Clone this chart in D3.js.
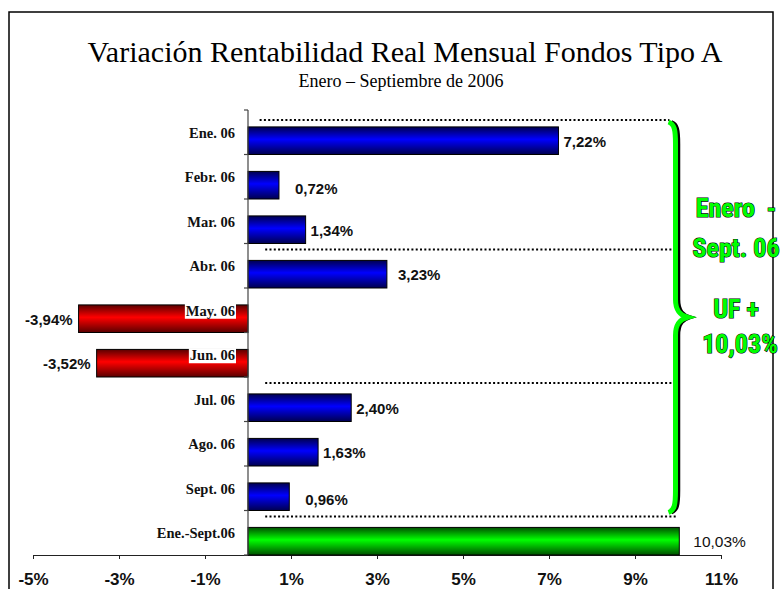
<!DOCTYPE html>
<html>
<head>
<meta charset="utf-8">
<title>Variación Rentabilidad Real Mensual Fondos Tipo A</title>
<script src="https://d3js.org/d3.v7.min.js"></script>
<style>
  body { margin: 0; background: #fff; }
  svg { display: block; }
</style>
</head>
<body>
<div id="home"></div>
<script>
// monthly real return, Fondos Tipo A (2006)
const months = ["Ene. 06", "Febr. 06", "Mar. 06", "Abr. 06", "May. 06", "Jun. 06",
                "Jul. 06", "Ago. 06", "Sept. 06", "Ene.-Sept.06"];
const returns = [7.22, 0.72, 1.34, 3.23, -3.94, -3.52, 2.40, 1.63, 0.96, 10.03];
const xTicks = [-5, -3, -1, 1, 3, 5, 7, 9, 11];
// months that open a quarter get a dotted separator
const quarterStarts = ["Ene. 06", "Abr. 06", "Jul. 06", "Ene.-Sept.06"];
const sideNote = ["Enero  -", "Sept. 06", "UF +", "10,03%"];

const w = 780, h = 589;
const serif = "'Liberation Serif', 'Times New Roman', serif";
const sans = "'Liberation Sans', Arial, sans-serif";
const narrow = "'Roboto Condensed', 'DejaVu Sans Condensed', sans-serif";

const svg = d3.select("#home").append("svg")
  .attr("width", w).attr("height", h);

const defs = svg.append("defs");
function grad(id, dark, light) {
  const g = defs.append("linearGradient").attr("id", id)
    .attr("x1", 0).attr("y1", 0).attr("x2", 0).attr("y2", 1);
  g.append("stop").attr("offset", "0%").attr("stop-color", dark);
  g.append("stop").attr("offset", "45%").attr("stop-color", light);
  g.append("stop").attr("offset", "100%").attr("stop-color", dark);
}
grad("gBlue", "#000050", "#0000ff");
grad("gRed", "#5a0000", "#ff0000");
grad("gGreen", "#005000", "#00ff00");

// frame
svg.append("rect").attr("x", 9).attr("y", 12).attr("width", 764).attr("height", 620)
  .attr("fill", "#fff").attr("stroke", "#000").attr("stroke-width", 1.5);

// titles
svg.append("text").attr("x", 405).attr("y", 62).attr("text-anchor", "middle")
  .style("font-family", serif).style("font-size", "30px")
  .text("Variación Rentabilidad Real Mensual Fondos Tipo A");
svg.append("text").attr("x", 401).attr("y", 87).attr("text-anchor", "middle")
  .style("font-family", serif).style("font-size", "18px")
  .text("Enero – Septiembre de 2006");

const x = d3.scaleLinear().domain([-5, 11]).range([33, 721]);
const y = d3.scaleBand().domain(months).range([110, 555]).padding(0);
const bw = y.bandwidth();

const fmt = d3.formatLocale({ decimal: ",", thousands: ".", grouping: [3], currency: ["", ""], minus: "-" })
  .format(".2f");

// x axis
const xAxis = d3.axisBottom(x).tickValues(xTicks).tickSize(4).tickSizeOuter(0)
  .tickFormat(d => d + "%");
const gx = svg.append("g").attr("transform", "translate(0,555)").call(xAxis);
gx.select(".domain").attr("stroke", "#222");
gx.selectAll(".tick line").attr("stroke", "#222");
gx.selectAll(".tick text").attr("y", 18).attr("fill", "#111")
  .style("font-family", sans).style("font-size", "17px").style("font-weight", "bold");

// dotted separators
svg.selectAll("line.sep").data(quarterStarts).enter().append("line")
  .attr("class", "sep")
  .attr("x1", (d, i) => i === 0 ? x(0.27) : x(0.4))
  .attr("x2", (d, i) => i === 0 ? x(9.8) : x(9.95))
  .attr("y1", (d, i) => y(d) + (i === 0 ? 10 : 6))
  .attr("y2", (d, i) => y(d) + (i === 0 ? 10 : 6))
  .attr("stroke", "#000").attr("stroke-width", 2).attr("stroke-dasharray", "2,2.3");

// bars
const rows = months.map((m, i) => ({ m, v: returns[i], total: i === months.length - 1 }));
const barTop = d => y(d.m) + bw * 0.38;
const barH = bw * 0.62;

svg.selectAll("rect.bar").data(rows).enter().append("rect")
  .attr("class", "bar")
  .attr("x", d => x(Math.min(0, d.v)))
  .attr("y", barTop)
  .attr("width", d => Math.abs(x(d.v) - x(0)))
  .attr("height", barH)
  .attr("fill", d => d.total ? "url(#gGreen)" : d.v < 0 ? "url(#gRed)" : "url(#gBlue)")
  .attr("stroke", "#000").attr("stroke-width", 1);

// y axis line + ticks at band edges
svg.append("line").attr("x1", x(0)).attr("x2", x(0)).attr("y1", 110).attr("y2", 555)
  .attr("stroke", "#444").attr("stroke-width", 1.2);
const edges = months.map(m => y(m)).concat([555]);
svg.selectAll("line.ytick").data(edges).enter().append("line")
  .attr("class", "ytick")
  .attr("x1", x(0) - 4).attr("x2", x(0)).attr("y1", d => d).attr("y2", d => d)
  .attr("stroke", "#444").attr("stroke-width", 1.2);

// category labels (white box where they sit over a red bar)
const catG = svg.append("g");
rows.forEach(d => {
  const t = catG.append("text")
    .attr("x", 235).attr("y", y(d.m) + bw / 2 + 5.5)
    .attr("text-anchor", "end").attr("fill", "#111")
    .style("font-family", serif).style("font-size", "14.5px").style("font-weight", "bold")
    .text(d.m);
  if (d.v < 0) {
    const b = t.node().getBBox();
    catG.insert("rect", "text").attr("x", b.x - 1).attr("y", b.y + 1)
      .attr("width", b.width + 2).attr("height", b.height - 1).attr("fill", "#fff");
  }
});

// value labels
const labelShift = { "Febr. 06": [16, 3], "Abr. 06": [11, 0], "Sept. 06": [16, 2], "Ene.-Sept.06": [14, 0] };
svg.selectAll("text.val").data(rows).enter().append("text")
  .attr("class", "val")
  .attr("x", d => {
    const s = labelShift[d.m] || [5, 0];
    return d.v < 0 ? x(d.v) - 6 : x(d.v) + s[0];
  })
  .attr("y", d => barTop(d) + barH / 2 + 6 + (labelShift[d.m] || [5, 0])[1])
  .attr("text-anchor", d => d.v < 0 ? "end" : "start")
  .attr("fill", "#111")
  .style("font-family", sans).style("font-size", d => d.total ? "15.5px" : "15px")
  .style("font-weight", d => d.total ? "normal" : "bold")
  .text(d => fmt(d.v) + "%");

// curly brace around Jan-Sept
const bTop = y(months[0]) + 12, bBot = y(months[months.length - 1]) + 2;
const bMid = (bTop + bBot) / 2, bx = x(10) - 1;
const brace = `M ${bx - 7} ${bTop} C ${bx - 1} ${bTop + 2}, ${bx} ${bTop + 8}, ${bx} ${bTop + 22}
  L ${bx} ${bMid - 18} C ${bx} ${bMid - 6}, ${bx + 5} ${bMid - 2}, ${bx + 12} ${bMid}
  C ${bx + 5} ${bMid + 2}, ${bx} ${bMid + 6}, ${bx} ${bMid + 18}
  L ${bx} ${bBot - 22} C ${bx} ${bBot - 8}, ${bx - 1} ${bBot - 2}, ${bx - 7} ${bBot}`;
svg.append("path").attr("d", brace).attr("fill", "none")
  .attr("stroke", "#000").attr("stroke-width", 3.5).attr("transform", "translate(1.5,0)");
svg.append("path").attr("d", brace).attr("fill", "none")
  .attr("stroke", "#00ff00").attr("stroke-width", 5).attr("transform", "translate(-1.5,0)");

// side note
const noteY = [217, 257, 318, 353];
svg.selectAll("text.note").data(sideNote).enter().append("text")
  .attr("class", "note")
  .attr("x", (d, i) => i === 3 ? 740 : 736).attr("y", (d, i) => noteY[i])
  .attr("text-anchor", "middle")
  .attr("fill", "#00ff00").attr("stroke", "#000").attr("stroke-width", 1.2)
  .style("paint-order", "stroke").style("white-space", "pre")
  .style("font-family", narrow).style("font-size", "26px").style("font-weight", "bold")
  .text(d => d);
</script>
</body>
</html>
